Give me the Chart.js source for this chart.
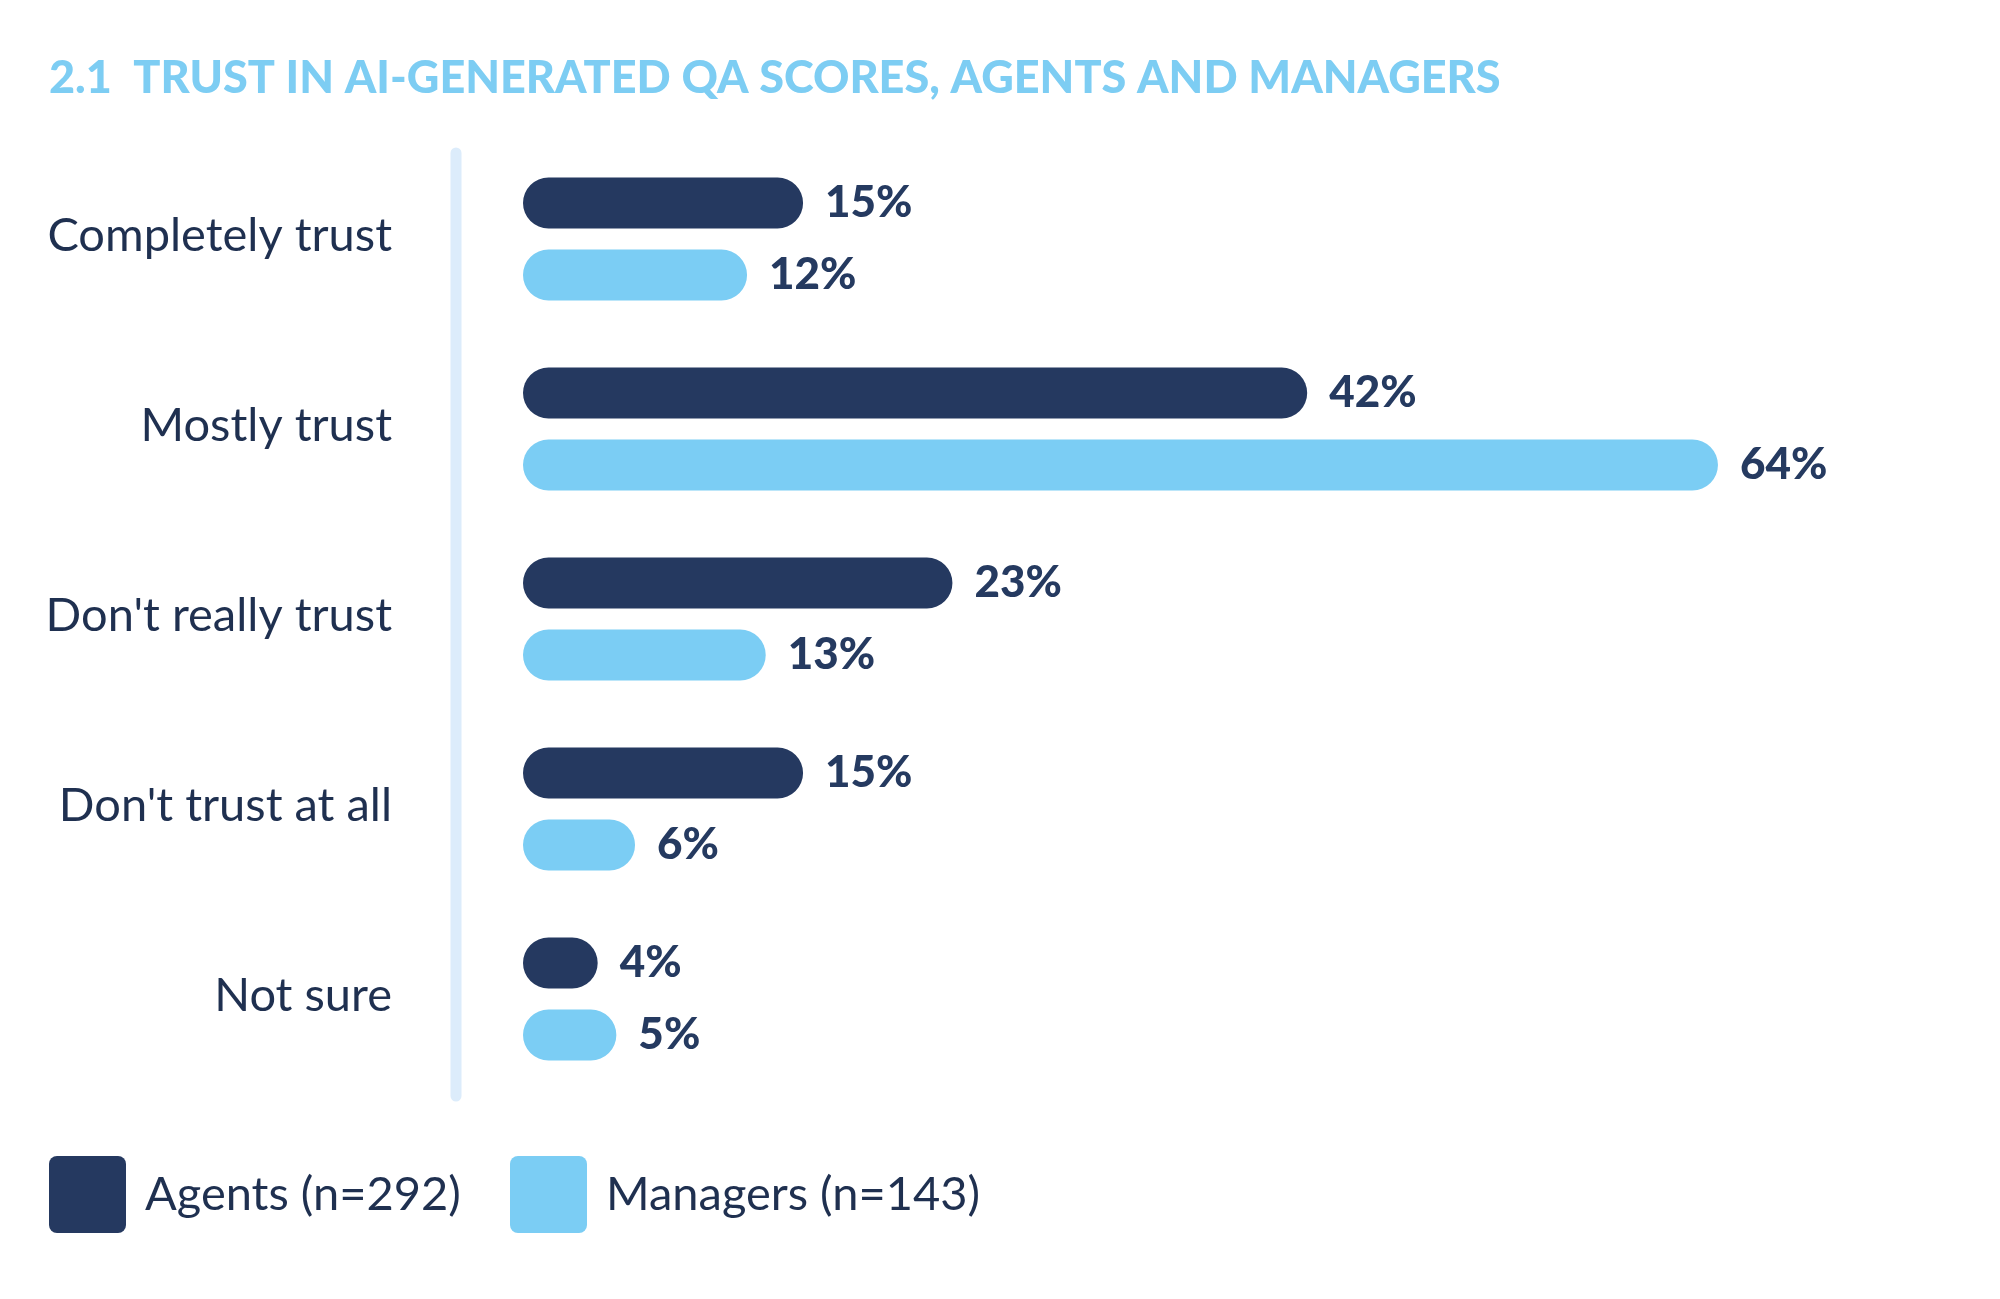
<!DOCTYPE html>
<html><head><meta charset="utf-8">
<script src="https://cdn.jsdelivr.net/npm/chart.js@4"></script>
<style>html,body{margin:0;padding:0;background:#fff}#w{width:2000px;height:1299px}</style>
</head><body><div id="w"><canvas id="c" width="2000" height="1299"></canvas></div>
<script>
const title = "2.1  TRUST IN AI-GENERATED QA SCORES, AGENTS AND MANAGERS";
const categories = ["Completely trust","Mostly trust","Don't really trust","Don't trust at all","Not sure"];
const agents = [15,42,23,15,4];
const managers = [12,64,13,6,5];
const seriesNames = ["Agents (n=292)","Managers (n=143)"];
const colors = ["#253960","#7bcdf4"];
const FONT = "Lato, 'Open Sans', sans-serif";

const deco = {
  id:'deco',
  beforeDatasetsDraw(ch){
    const c=ch.ctx; c.save();
    c.strokeStyle="#dcecfb"; c.lineWidth=11; c.lineCap="round";
    c.beginPath(); c.moveTo(456,153); c.lineTo(456,1096); c.stroke();
    c.restore();
  },
  afterDatasetsDraw(ch){
    const c=ch.ctx; c.save();
    c.fillStyle="#7dcdf3"; c.font="900 45px "+FONT; c.textBaseline="middle"; c.textAlign="left";
    c.fillText(title,49,78);
    const ys=ch.scales.y;
    c.fillStyle="#1f3050"; c.font="47px "+FONT; c.textAlign="right";
    categories.forEach((t,i)=>c.fillText(t,392,ys.getPixelForValue(i)-3));
    c.fillStyle="#253a60"; c.font="900 44px "+FONT; c.textAlign="left";
    ch.data.datasets.forEach((ds,di)=>{
      ch.getDatasetMeta(di).data.forEach((el,i)=>{
        c.fillText(ds.data[i]+"%",el.x+22,el.y);
      });
    });
    c.font="47px "+FONT;
    const lx=[49,510];
    seriesNames.forEach((n,i)=>{
      c.fillStyle=colors[i];
      c.beginPath(); c.roundRect(lx[i],1156,77,77,8); c.fill();
      c.fillStyle="#1f3050"; c.fillText(n,lx[i]+96,1195);
    });
    c.restore();
  }
};

new Chart(document.getElementById('c'),{
  type:'bar',
  data:{labels:categories,datasets:[
    {label:seriesNames[0],data:agents,backgroundColor:colors[0]},
    {label:seriesNames[1],data:managers,backgroundColor:colors[1]}
  ]},
  options:{
    indexAxis:'y',responsive:false,animation:false,
    devicePixelRatio:1,
    layout:{padding:{left:523,right:100,top:144,bottom:205}},
    datasets:{bar:{categoryPercentage:0.758,barPercentage:0.708,borderRadius:26,borderSkipped:false}},
    scales:{
      x:{display:false,min:0,max:73.75},
      y:{display:false}
    },
    plugins:{legend:{display:false},tooltip:{enabled:false}}
  },
  plugins:[deco]
});
</script></body></html>
